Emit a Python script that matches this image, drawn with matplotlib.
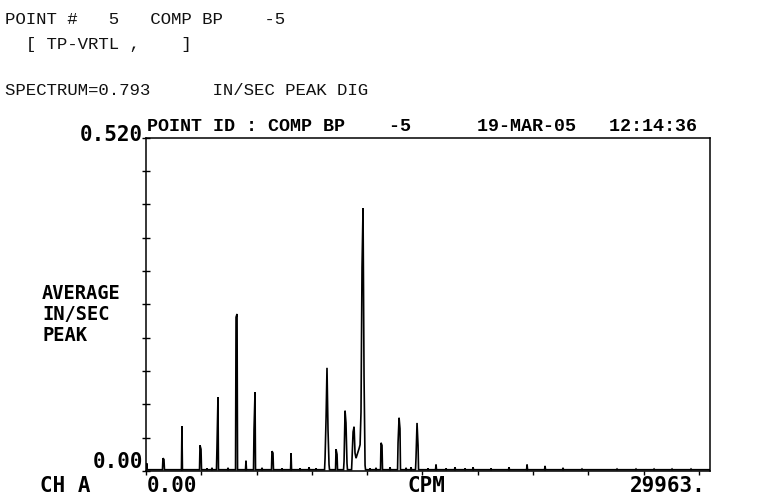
import matplotlib
matplotlib.use("Agg")
import matplotlib.pyplot as plt
from matplotlib.ticker import MultipleLocator

# spectrum lines: frequency (CPM) and amplitude (in/sec pk)
bin_cpm = [40, 920, 975, 1950, 2930, 2985, 3310, 3580, 3850, 3905,
           4450, 4885, 4940, 5425, 5860, 5915, 6295, 6835, 6890, 7380,
           7870, 8355, 8845, 9225, 9715, 9770, 9820, 9875, 9930,
           10310, 10365, 10745, 10800, 10850, 10905,
           11180, 11235, 11290, 11340, 11395, 11450, 11505, 11560, 11615,
           11665, 11720, 11775, 11830, 11885,
           12155, 12480, 12750, 12805, 13240, 13675, 13730, 13780, 14110,
           14380, 14650, 14705, 14760, 15300, 15735, 16280, 16765, 17310,
           17745, 18720, 19695, 20675, 21650, 22625, 23655, 25555, 26585,
           27565, 28540, 29570]
bin_amp = [0.012, 0.020, 0.018, 0.070, 0.040, 0.034, 0.004, 0.005, 0.036, 0.115,
           0.005, 0.240, 0.245, 0.016, 0.064, 0.123, 0.005, 0.031, 0.028, 0.004,
           0.028, 0.004, 0.006, 0.004, 0.020, 0.083, 0.161, 0.064, 0.010,
           0.034, 0.026, 0.015, 0.094, 0.075, 0.012,
           0.020, 0.061, 0.069, 0.028, 0.020, 0.025, 0.030, 0.035, 0.041,
           0.092, 0.318, 0.410, 0.147, 0.009,
           0.004, 0.005, 0.044, 0.040, 0.006, 0.044, 0.083, 0.066, 0.005,
           0.006, 0.021, 0.075, 0.040, 0.004, 0.010, 0.004, 0.006, 0.004,
           0.006, 0.004, 0.006, 0.010, 0.008, 0.005, 0.003, 0.003, 0.003,
           0.003, 0.003, 0.003]
floor_amp = 0.002

fmax = 30600
amp_full = 0.52

header = ["POINT #   5   COMP BP    -5",
          "  [ TP-VRTL ,    ]",
          "SPECTRUM=0.793      IN/SEC PEAK DIG"]
plot_title = "POINT ID : COMP BP    -5      19-MAR-05   12:14:36"

W, H = 772, 495
fig = plt.figure(figsize=(W / 100, H / 100), dpi=100)
ax = fig.add_axes([146 / W, 1 - 471 / H, (710 - 146) / W, (471 - 137.7) / H])

def px(x, y):
    return x / W, 1 - y / H

# join the lines into one trace, dropping to the floor between separated lines
xs, ys = [0], [floor_amp]
prev = None
for c, a in zip(bin_cpm, bin_amp):
    if prev is not None and c - prev > 60:
        xs += [prev + 27, c - 27]
        ys += [floor_amp, floor_amp]
    xs.append(c)
    ys.append(a)
    prev = c
xs += [prev + 27, fmax]
ys += [floor_amp, floor_amp]
ax.plot(xs, ys, color="black", lw=1.2, solid_joinstyle="miter")

ax.set_xlim(0, fmax)
ax.set_ylim(0, amp_full)
ax.xaxis.set_major_locator(MultipleLocator(3000))
ax.yaxis.set_major_locator(MultipleLocator(amp_full / 10))
ax.tick_params(axis="x", direction="out", length=3, width=1, labelbottom=False)
ax.tick_params(axis="y", direction="inout", length=6, width=1, labelleft=False)
for s in ax.spines.values():
    s.set_linewidth(1.1)

mono = "Liberation Mono"
for i, line in enumerate(header):
    fig.text(*px(5, [19, 45, 90][i]), line, family=mono, size=12.5,
             va="center", color="#111111")

fig.text(*px(147, 135), plot_title, family=mono, weight="bold", size=13.2,
         va="bottom")

lab = dict(family="DejaVu Sans Mono", weight="bold", size=15)
fig.text(*px(143, 135), "0.520", ha="right", va="center", **lab)
fig.text(*px(143, 472), "0.00", ha="right", va="bottom", **lab)
fig.text(*px(40, 476), "CH A", ha="left", va="top", **lab)
fig.text(*px(147, 476), "0.00", ha="left", va="top", **lab)
fig.text(*px(426, 476), "CPM", ha="center", va="top", **lab)
fig.text(*px(706, 476), "29963.", ha="right", va="top", **lab)

fig.text(*px(42, 284), "AVERAGE\nIN/SEC\nPEAK", ha="left", va="top",
         family="DejaVu Sans Mono", weight="bold", size=13.5,
         linespacing=1.12)

fig.savefig("out.png", dpi=100)
